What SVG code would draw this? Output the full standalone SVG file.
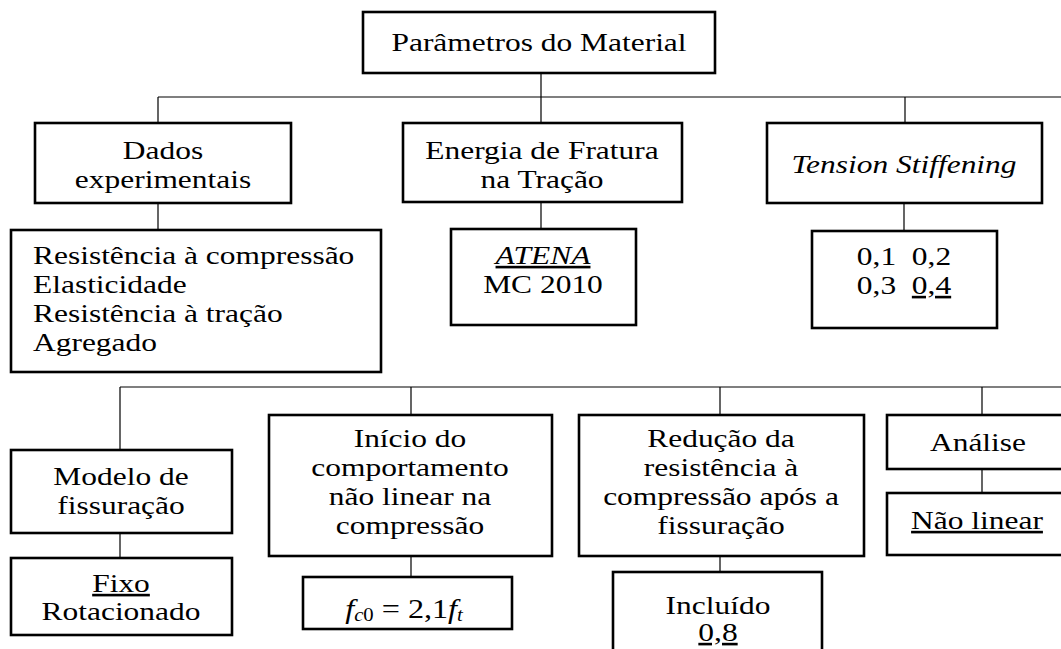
<svg xmlns="http://www.w3.org/2000/svg" width="1061" height="649" viewBox="0 0 1061 649">
<style>
  .box { fill: #fff; stroke: #000; stroke-width: 2.6; }
  .ln { fill: none; stroke: #000; stroke-width: 1.2; }
  text { font-family: "Liberation Serif", "Times New Roman", serif; font-size: 26px; fill: #000; }
  .c { text-anchor: middle; }
  .it { font-style: italic; }
  .u { text-decoration: underline; }
</style>
<rect width="1061" height="649" fill="#fff"/>
<g id="connectors">
  <path class="ln" d="M541 73 V123 M158 97 H1061 M158 97 V123 M905 97 V123"/>
  <path class="ln" d="M158 203 V230 M541 202 V229 M904 203 V231"/>
  <path class="ln" d="M120 387 H1061 M120 387 V450 M411 387 V415 M720 387 V415 M982 387 V415"/>
  <path class="ln" d="M120 533 V558 M411 556 V577 M720 556 V572 M982 469 V493"/>
</g>
<g id="n-parametros">
  <rect class="box" x="363" y="12" width="352" height="61"/>
  <text class="c" transform="translate(539,51) scale(1.21,1)">Parâmetros do Material</text>
</g>
<g id="n-dados">
  <rect class="box" x="35" y="123" width="256" height="80"/>
  <text class="c" transform="translate(163,159) scale(1.21,1)"><tspan x="0">Dados</tspan><tspan x="0" dy="29">experimentais</tspan></text>
</g>
<g id="n-energia">
  <rect class="box" x="403" y="123" width="279" height="79"/>
  <text class="c" transform="translate(542,159) scale(1.21,1)"><tspan x="0">Energia de Fratura</tspan><tspan x="0" dy="29">na Tração</tspan></text>
</g>
<g id="n-tension">
  <rect class="box" x="767" y="123" width="275" height="80"/>
  <text class="c it" transform="translate(904,173) scale(1.21,1)">Tension Stiffening</text>
</g>
<g id="n-dados-lista">
  <rect class="box" x="11" y="230" width="370" height="142"/>
  <text transform="translate(33,264) scale(1.21,1)"><tspan x="0">Resistência à compressão</tspan><tspan x="0" dy="29">Elasticidade</tspan><tspan x="0" dy="29">Resistência à tração</tspan><tspan x="0" dy="29">Agregado</tspan></text>
</g>
<g id="n-atena">
  <rect class="box" x="451" y="229" width="185" height="96"/>
  <text class="c" transform="translate(543,264) scale(1.21,1)"><tspan x="0" class="it u">ATENA</tspan><tspan x="0" dy="29">MC 2010</tspan></text>
</g>
<g id="n-valores">
  <rect class="box" x="812" y="231" width="185" height="97"/>
  <text class="c" transform="translate(904,265) scale(1.21,1)" xml:space="preserve"><tspan x="0">0,1  0,2</tspan><tspan x="0" dy="29">0,3  <tspan class="u">0,4</tspan></tspan></text>
</g>
<g id="n-modelo">
  <rect class="box" x="11" y="450" width="221" height="83"/>
  <text class="c" transform="translate(121,485) scale(1.21,1)"><tspan x="0">Modelo de</tspan><tspan x="0" dy="29">fissuração</tspan></text>
</g>
<g id="n-fixo">
  <rect class="box" x="11" y="558" width="221" height="77"/>
  <text class="c" transform="translate(121,592) scale(1.21,1)"><tspan x="0" class="u">Fixo</tspan><tspan x="0" dy="28">Rotacionado</tspan></text>
</g>
<g id="n-inicio">
  <rect class="box" x="269" y="415" width="283" height="141"/>
  <text class="c" transform="translate(410,447) scale(1.21,1)"><tspan x="0">Início do</tspan><tspan x="0" dy="29">comportamento</tspan><tspan x="0" dy="29">não linear na</tspan><tspan x="0" dy="29">compressão</tspan></text>
</g>
<g id="n-fc0">
  <rect class="box" x="303" y="577" width="209" height="52"/>
  <text class="c" transform="translate(404,618) scale(1.15,1)" style="font-size:28px"><tspan class="it">f</tspan><tspan class="it" dy="3" style="font-size:18px">c</tspan><tspan style="font-size:18px">0</tspan><tspan dy="-3"> = 2,1</tspan><tspan class="it">f</tspan><tspan class="it" dy="3" style="font-size:18px">t</tspan></text>
</g>
<g id="n-reducao">
  <rect class="box" x="579" y="415" width="285" height="141"/>
  <text class="c" transform="translate(721,447) scale(1.21,1)"><tspan x="0">Redução da</tspan><tspan x="0" dy="29">resistência à</tspan><tspan x="0" dy="29">compressão após a</tspan><tspan x="0" dy="29">fissuração</tspan></text>
</g>
<g id="n-incluido">
  <rect class="box" x="613" y="572" width="209" height="90"/>
  <text class="c" transform="translate(718,614) scale(1.21,1)"><tspan x="0">Incluído</tspan><tspan x="0" dy="27" class="u">0,8</tspan></text>
</g>
<g id="n-analise">
  <rect class="box" x="887" y="415" width="190" height="54"/>
  <text class="c" transform="translate(978,451) scale(1.21,1)">Análise</text>
</g>
<g id="n-nao-linear">
  <rect class="box" x="887" y="493" width="190" height="62"/>
  <text class="c u" transform="translate(977,529) scale(1.21,1)">Não linear</text>
</g>
</svg>
